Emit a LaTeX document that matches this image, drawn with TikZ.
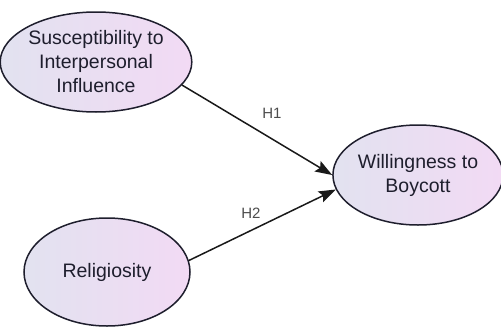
\documentclass[tikz,border=0pt]{standalone}
\usepackage{fontspec}
\setmainfont{Liberation Sans}
\usepackage{xcolor}
\usetikzlibrary{shapes.geometric, arrows.meta, positioning}

\definecolor{fillleft}{RGB}{226,226,240}
\definecolor{fillright}{RGB}{242,218,244}
\definecolor{inkdark}{RGB}{30,30,45}

\begin{document}
\begin{tikzpicture}[
    x=1pt, y=-1pt,
    latent/.style={draw=inkdark, ellipse, line width=1.5pt, inner sep=0pt, align=center,
        left color=fillleft, right color=fillright, text=inkdark,
        font=\fontsize{19.5}{24}\selectfont},
    arrow/.style={line width=1.5pt, draw=black!90, -{Stealth[length=17pt, width=12pt, inset=3pt]}},
    hyp/.style={font=\fontsize{15}{17}\selectfont, text=black!70}
]
\useasboundingbox (0,0) rectangle (501,327);

% Constructs
\node (sii) [latent, minimum width=178pt, minimum height=100pt] at (96,62) {Susceptibility to\\Interpersonal\\Influence};
\node (rel) [latent, minimum width=166pt, minimum height=108pt] at (107,272) {Religiosity};
\node (wtb) [latent, minimum width=160pt, minimum height=100pt] at (418,175) {Willingness to\\Boycott};

% Hypotheses
\draw[arrow] (sii.-15) -- (wtb.180);
\draw[arrow] (rel.8) -- (wtb.190);
\node (h1) [hyp] at (272,113) {H1};
\node (h2) [hyp] at (251,213) {H2};

\end{tikzpicture}
\end{document}
